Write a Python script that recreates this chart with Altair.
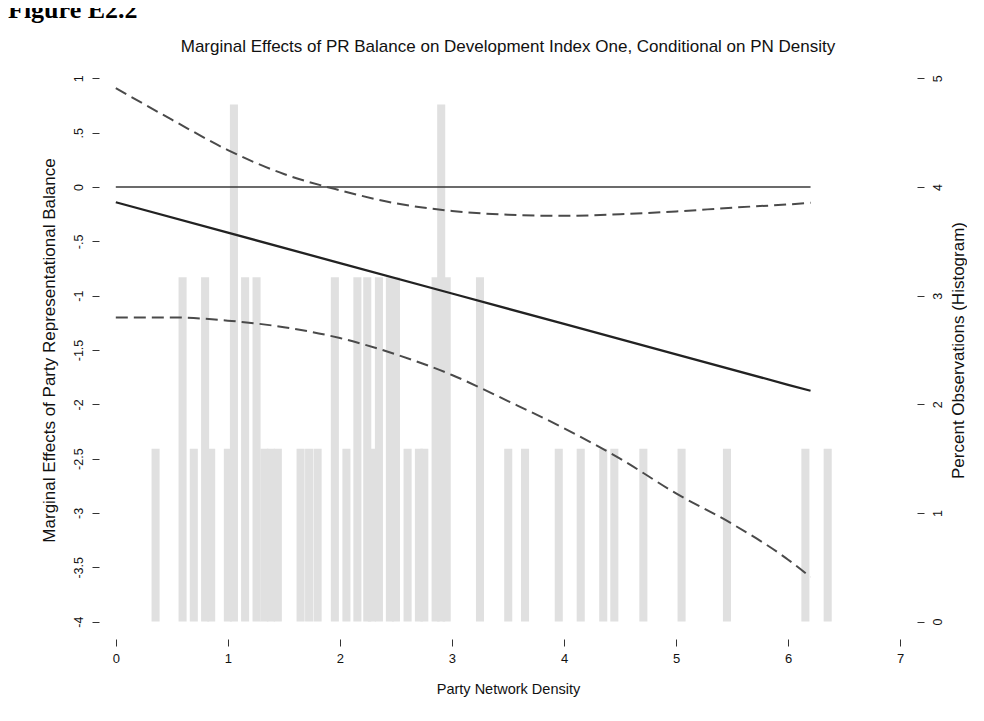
import altair as alt
import pandas as pd

# ---------------- data ----------------
# histogram: bar centres (Party Network Density) and percent of observations
hist_center = [0.355, 0.596, 0.696, 0.797, 0.851, 1.000, 1.054, 1.154, 1.256, 1.326,
               1.384, 1.446, 1.649, 1.725, 1.801, 1.955, 2.058, 2.156, 2.244, 2.286,
               2.348, 2.446, 2.500, 2.604, 2.705, 2.753, 2.854, 2.904, 2.953, 3.250,
               3.502, 3.652, 3.953, 4.149, 4.350, 4.449, 4.708, 5.049, 5.454, 6.154,
               6.353]
hist_pct = [1.59, 3.17, 1.59, 3.17, 1.59, 1.59, 4.76, 3.17, 3.17, 1.59,
            1.59, 1.59, 1.59, 1.59, 1.59, 3.17, 1.59, 3.17, 3.17, 1.59,
            3.17, 3.17, 3.17, 1.59, 1.59, 1.59, 3.17, 4.76, 3.17, 3.17,
            1.59, 1.59, 1.59, 1.59, 1.59, 1.59, 1.59, 1.59, 1.59, 1.59,
            1.59]

# confidence bounds
ci_x = [0, 0.5, 1, 1.5, 2, 2.5, 3, 3.5, 4, 4.5, 5, 5.5, 6, 6.2]
ci_upper = [0.91, 0.62, 0.34, 0.12, -0.03, -0.15, -0.22, -0.255, -0.265, -0.25,
            -0.225, -0.19, -0.16, -0.145]
ci_lower = [-1.20, -1.20, -1.23, -1.29, -1.39, -1.54, -1.73, -1.97, -2.22, -2.50,
            -2.82, -3.10, -3.43, -3.59]

# marginal effect estimate
est_x = [0, 1, 2, 3, 4, 5, 6, 6.2]
est_y = [-0.14, -0.42, -0.70, -0.98, -1.26, -1.54, -1.82, -1.875]

# zero reference line
zero_x = [0, 6.2]
zero_y = [0, 0]

x_ticks = [0, 1, 2, 3, 4, 5, 6, 7]
left_ticks = [-4, -3.5, -3, -2.5, -2, -1.5, -1, -0.5, 0, 0.5, 1]
right_ticks = [0, 1, 2, 3, 4, 5]

title_text = "Marginal Effects of PR Balance on Development Index One, Conditional on PN Density"
x_title = "Party Network Density"
left_title = "Marginal Effects of Party Representational Balance"
right_title = "Percent Observations (Histogram)"
fig_label = "Figure E2.2"

# ---------------- frames ----------------
hist_df = pd.DataFrame({"center": hist_center, "pct": hist_pct})
ci_df = pd.concat([
    pd.DataFrame({"x": ci_x, "y": ci_upper, "series": "upper"}),
    pd.DataFrame({"x": ci_x, "y": ci_lower, "series": "lower"}),
])
est_df = pd.DataFrame({"x": est_x, "y": est_y})
zero_df = pd.DataFrame({"x": zero_x, "y": zero_y})

FONT = "Liberation Sans"
xscale = alt.Scale(domain=[-0.15, 7.15], nice=False, zero=False)
yscale = alt.Scale(domain=[-4.16, 1.16], nice=False, zero=False)
rscale = alt.Scale(domain=[-0.16, 5.16], nice=False, zero=False)

common_axis = dict(domain=False, grid=False, ticks=True, tickSize=7, tickColor="#333",
                   tickWidth=1, labelFont=FONT, labelColor="#111",
                   titleFont=FONT, titleFontWeight="normal", titleColor="#111")

x_axis = alt.Axis(values=x_ticks, format="d", title=x_title, orient="bottom",
                  labelFontSize=13, titleFontSize=14.5,
                  labelPadding=6, titlePadding=17, **common_axis)
left_axis = alt.Axis(values=left_ticks, orient="left", title=left_title,
                     labelFontSize=12.5, titleFontSize=17,
                     labelAngle=270, labelPadding=7, titlePadding=14,
                     labelExpr="replace(toString(datum.value), '0.', '.')",
                     **common_axis)
right_axis = alt.Axis(values=right_ticks, orient="right", title=right_title,
                      labelFontSize=12.5, titleFontSize=17,
                      labelAngle=270, labelPadding=7, titlePadding=24, titleAngle=270,
                      labelExpr="toString(datum.value)", **common_axis)

bars = alt.Chart(hist_df).transform_calculate(
    x0="datum.center - 0.036", x1="datum.center + 0.036", base="0"
).mark_rect(color="#e0e0e0").encode(
    x=alt.X("x0:Q", scale=xscale, axis=x_axis),
    x2="x1:Q",
    y=alt.Y("pct:Q", scale=rscale, axis=right_axis),
    y2="base:Q",
)

zero_line = alt.Chart(zero_df).mark_line(color="#3a3a3a", strokeWidth=1.6).encode(
    x=alt.X("x:Q", scale=xscale, axis=x_axis),
    y=alt.Y("y:Q", scale=yscale, axis=left_axis),
)

ci_lines = alt.Chart(ci_df).mark_line(color="#4a4a4a", strokeWidth=2,
                                      strokeDash=[12, 6], interpolate="monotone").encode(
    x=alt.X("x:Q", scale=xscale, axis=x_axis),
    y=alt.Y("y:Q", scale=yscale, axis=None),
    detail="series:N",
)

est_line = alt.Chart(est_df).mark_line(color="#222", strokeWidth=2.3).encode(
    x=alt.X("x:Q", scale=xscale, axis=x_axis),
    y=alt.Y("y:Q", scale=yscale, axis=None),
)

fig_text = alt.Chart(pd.DataFrame({"t": [fig_label]})).mark_text(
    font="Liberation Serif", fontWeight="bold", fontSize=26, align="left",
    baseline="alphabetic", color="#000"
).encode(x=alt.value(-91), y=alt.value(-43), text="t:N")

main_title = alt.Chart(pd.DataFrame({"t": [title_text]})).mark_text(
    font=FONT, fontSize=17, align="center", baseline="alphabetic", color="#111"
).encode(x=alt.value(409), y=alt.value(-9), text="t:N")

chart = alt.layer(bars, zero_line, ci_lines, est_line, fig_text, main_title).resolve_scale(
    y="independent"
).properties(
    width=818, height=578,
    padding={"left": 91, "top": 53, "right": 50, "bottom": 70},
    autosize=alt.AutoSizeParams(type="none"),
).configure_view(stroke=None)

chart.save("out.html", embed_options={"renderer": "svg", "actions": False})
